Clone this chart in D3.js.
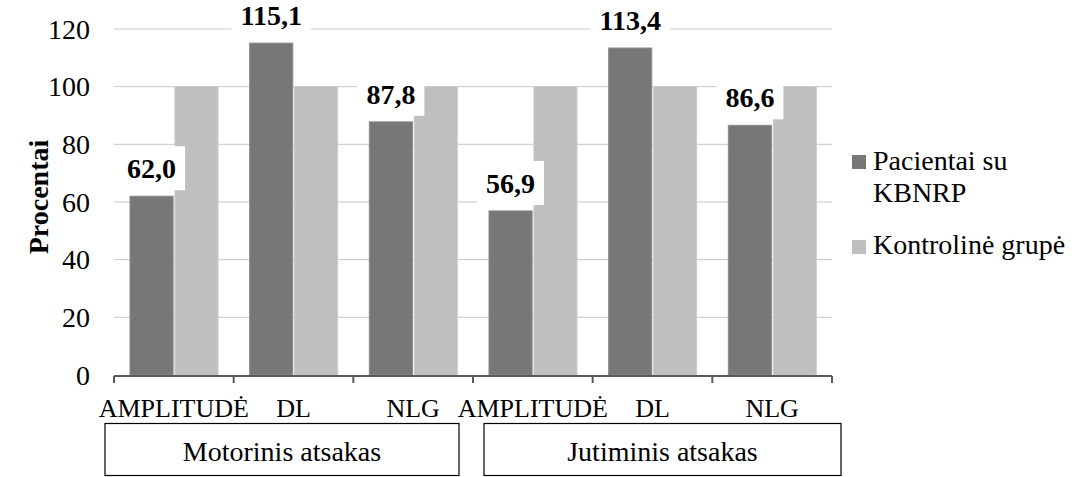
<!DOCTYPE html>
<html>
<head>
<meta charset="utf-8">
<script src="https://cdn.jsdelivr.net/npm/d3@7"></script>
<style>
  body { margin: 0; background: #fff; }
  svg text { font-family: "Liberation Serif", "Times New Roman", Times, "DejaVu Serif", serif; }
</style>
</head>
<body>
<div id="chart"></div>
<script>
var categories = ['AMPLITUDĖ', 'DL', 'NLG', 'AMPLITUDĖ', 'DL', 'NLG'];
var groupNames = ['Motorinis atsakas', 'Jutiminis atsakas'];
var seriesNames = ['Pacientai su KBNRP', 'Kontrolinė grupė'];
var patients = [62.0, 115.1, 87.8, 56.9, 113.4, 86.6];
var control = [100, 100, 100, 100, 100, 100];
var yTicks = [0, 20, 40, 60, 80, 100, 120];

var width = 1080, height = 477,
    fontFam = '"Liberation Serif", "Times New Roman", Times, "DejaVu Serif", serif',
    colors = ['#777777', '#bfbfbf'],
    strokes = ['#8a8a8a', '#cccccc'];

var svg = d3.select('#chart').append('svg').attr('width', width).attr('height', height)
  .attr('font-family', fontFam);

var x = d3.scaleBand().domain(d3.range(categories.length)).range([114, 832]).padding(0);
var xs = d3.scaleBand().domain([0, 1]).range([16, 104]).paddingInner(0.04);
var y = d3.scaleLinear().domain([0, 120]).range([375, 29]);

// gridlines
svg.append('g').selectAll('line').data(yTicks.slice(1)).enter().append('line')
  .attr('x1', 114).attr('x2', 832)
  .attr('y1', function (d) { return y(d); }).attr('y2', function (d) { return y(d); })
  .attr('stroke', '#c8c8c8').attr('stroke-width', 1);

// y tick labels
svg.append('g').selectAll('text').data(yTicks).enter().append('text')
  .attr('x', 90).attr('y', function (d) { return y(d); })
  .attr('dy', '0.35em').attr('text-anchor', 'end')
  .attr('font-size', 28).attr('fill', '#000')
  .text(function (d) { return d; });

svg.append('text')
  .attr('transform', 'translate(48,197) rotate(-90)')
  .attr('text-anchor', 'middle').attr('font-size', 28).attr('font-weight', 'bold')
  .text('Procentai');

// bars
var rows = categories.map(function (c, i) { return { i: i, vals: [patients[i], control[i]] }; });
var cat = svg.append('g').selectAll('g').data(rows).enter().append('g')
  .attr('transform', function (d) { return 'translate(' + x(d.i) + ',0)'; });
cat.selectAll('rect').data(function (d) { return d.vals.map(function (v, s) { return { s: s, v: v }; }); })
  .enter().append('rect')
  .attr('x', function (d) { return xs(d.s); })
  .attr('width', xs.bandwidth())
  .attr('y', function (d) { return y(d.v); })
  .attr('height', function (d) { return y(0) - y(d.v); })
  .attr('fill', function (d) { return colors[d.s]; })
  .attr('stroke', function (d) { return strokes[d.s]; })
  .attr('stroke-width', 1);

// x axis
var axisY = 376;
svg.append('line').attr('x1', 114).attr('x2', 832).attr('y1', axisY).attr('y2', axisY)
  .attr('stroke', '#595959').attr('stroke-width', 2);
svg.append('g').selectAll('line').data(d3.range(categories.length + 1)).enter().append('line')
  .attr('x1', function (d) { return 114 + d * x.step(); })
  .attr('x2', function (d) { return 114 + d * x.step(); })
  .attr('y1', axisY).attr('y2', axisY + 7)
  .attr('stroke', '#595959').attr('stroke-width', 2);

svg.append('g').selectAll('text').data(categories).enter().append('text')
  .attr('x', function (d, i) { return x(i) + x.bandwidth() / 2; })
  .attr('y', 417).attr('text-anchor', 'middle').attr('font-size', 26)
  .text(function (d) { return d; });

// group boxes
var boxOffsets = [[-9, -14], [11, 9]];
groupNames.forEach(function (g, k) {
  var x0 = x(k * 3) + boxOffsets[k][0],
      x1 = x(k * 3 + 2) + x.bandwidth() + boxOffsets[k][1];
  svg.append('rect').attr('x', x0).attr('y', 423.5).attr('width', x1 - x0).attr('height', 52)
    .attr('fill', 'none').attr('stroke', '#000').attr('stroke-width', 1.2);
  svg.append('text').attr('x', (x0 + x1) / 2).attr('y', 461)
    .attr('text-anchor', 'middle').attr('font-size', 28).text(g);
});

// data labels
var lab = svg.append('g').selectAll('g').data(patients).enter().append('g')
  .attr('transform', function (d, i) {
    return 'translate(' + (x(i) + xs(0) + xs.bandwidth() / 2) + ',' + (y(d) - 28) + ')';
  });
lab.append('text')
  .attr('text-anchor', 'middle').attr('dy', '0.35em')
  .attr('font-size', 28).attr('font-weight', 'bold')
  .text(function (d) { return d.toFixed(1).replace('.', ','); })
  .each(function () {
    var b = this.getBBox();
    d3.select(this.parentNode).insert('rect', 'text')
      .attr('x', b.x - 9).attr('y', -22).attr('width', b.width + 18).attr('height', 44)
      .attr('fill', '#fff');
  });

// legend
var legend = svg.append('g');
legend.append('rect').attr('x', 852).attr('y', 155).attr('width', 14).attr('height', 14).attr('fill', colors[0]);
legend.append('text').attr('x', 873).attr('y', 170).attr('font-size', 28).text('Pacientai su');
legend.append('text').attr('x', 873).attr('y', 202).attr('font-size', 28).text('KBNRP');
legend.append('rect').attr('x', 852).attr('y', 240).attr('width', 14).attr('height', 14).attr('fill', colors[1]);
legend.append('text').attr('x', 873).attr('y', 254).attr('font-size', 28).text(seriesNames[1]);
</script>
</body>
</html>
